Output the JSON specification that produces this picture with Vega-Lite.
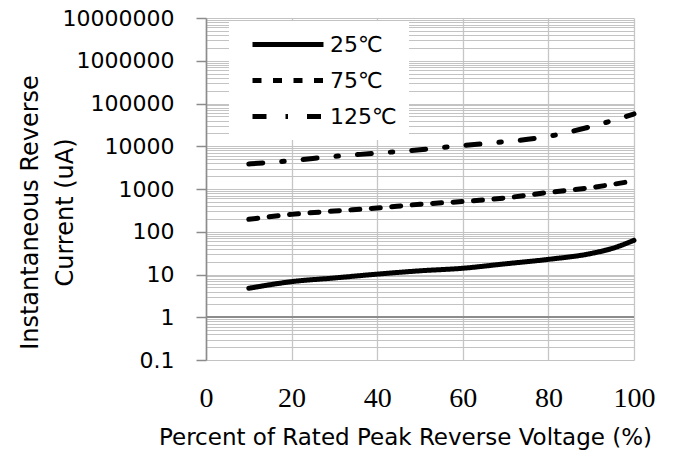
{
  "$schema": "https://vega.github.io/schema/vega-lite/v6.json",
  "width": 428,
  "height": 342,
  "autosize": {"type": "none"},
  "padding": {"left": 206, "top": 18, "right": 58, "bottom": 97},
  "background": "white",
  "config": {
    "view": {"stroke": null},
    "axis": {"labelColor": "black", "titleColor": "black", "titleFontWeight": "normal"}
  },
  "data": {
    "values": [
      {"x": 10, "t": "25℃", "y": 4.75},
      {"x": 20, "t": "25℃", "y": 6.8},
      {"x": 30, "t": "25℃", "y": 8.3},
      {"x": 40, "t": "25℃", "y": 10.2},
      {"x": 50, "t": "25℃", "y": 12.2},
      {"x": 60, "t": "25℃", "y": 14},
      {"x": 70, "t": "25℃", "y": 17.8},
      {"x": 80, "t": "25℃", "y": 22.6},
      {"x": 90, "t": "25℃", "y": 31},
      {"x": 95, "t": "25℃", "y": 41},
      {"x": 100, "t": "25℃", "y": 63},
      {"x": 10, "t": "75℃", "y": 195},
      {"x": 20, "t": "75℃", "y": 255},
      {"x": 30, "t": "75℃", "y": 305},
      {"x": 40, "t": "75℃", "y": 360},
      {"x": 50, "t": "75℃", "y": 440},
      {"x": 60, "t": "75℃", "y": 510},
      {"x": 70, "t": "75℃", "y": 620},
      {"x": 80, "t": "75℃", "y": 830},
      {"x": 90, "t": "75℃", "y": 1080},
      {"x": 100, "t": "75℃", "y": 1550},
      {"x": 10, "t": "125℃", "y": 3850},
      {"x": 20, "t": "125℃", "y": 4600},
      {"x": 30, "t": "125℃", "y": 5800},
      {"x": 40, "t": "125℃", "y": 6900},
      {"x": 50, "t": "125℃", "y": 8300},
      {"x": 60, "t": "125℃", "y": 10400},
      {"x": 70, "t": "125℃", "y": 12800},
      {"x": 80, "t": "125℃", "y": 17000},
      {"x": 90, "t": "125℃", "y": 29000},
      {"x": 95, "t": "125℃", "y": 40000},
      {"x": 100, "t": "125℃", "y": 57000}
    ]
  },
  "layer": [
    {
      "mark": {"type": "rule", "color": "#8c8c8c", "strokeWidth": 1.5},
      "encoding": {"y": {"datum": 1, "type": "quantitative", "scale": {"type": "log", "domain": [0.1, 10000000]}}}
    },
    {
      "mark": {"type": "line", "color": "black", "strokeWidth": 5, "strokeCap": "round", "interpolate": "monotone", "clip": false},
      "encoding": {
        "x": {
          "field": "x", "type": "quantitative",
          "scale": {"domain": [0, 100], "nice": false},
          "axis": {
            "values": [0, 20, 40, 60, 80, 100],
            "grid": true, "gridColor": "#c6c6c6", "gridWidth": 1.3,
            "domain": false, "ticks": false,
            "labelFont": "Liberation Serif", "labelFontSize": 28, "labelPadding": 24,
            "labelFlush": false,
            "title": "Percent of  Rated Peak Reverse Voltage (%)",
            "titleFont": "DejaVu Sans", "titleFontSize": 23, "titlePadding": 14,
            "titleX": 199, "titleAnchor": "middle"
          }
        },
        "y": {
          "field": "y", "type": "quantitative",
          "scale": {"type": "log", "domain": [0.1, 10000000], "nice": false},
          "axis": {
            "values": [0.1,0.2,0.3,0.4,0.5,0.6,0.7,0.8,0.9,1,2,3,4,5,6,7,8,9,10,20,30,40,50,60,70,80,90,100,200,300,400,500,600,700,800,900,1000,2000,3000,4000,5000,6000,7000,8000,9000,10000,20000,30000,40000,50000,60000,70000,80000,90000,100000,200000,300000,400000,500000,600000,700000,800000,900000,1000000,2000000,3000000,4000000,5000000,6000000,7000000,8000000,9000000,10000000],
            "labelExpr": "abs(log(datum.value)/LN10 - round(log(datum.value)/LN10)) < 0.000001 ? (datum.value < 1 ? '0.1' : format(datum.value, 'd')) : ''",
            "labelOverlap": false,
            "labelFont": "DejaVu Sans", "labelFontSize": 22, "labelPadding": 22,
            "labelFlush": false,
            "grid": true, "gridColor": "#c3c3c3", "gridWidth": 1.2,
            "domain": true, "domainColor": "#8c8c8c", "domainWidth": 1.6,
            "ticks": true, "tickSize": 10, "tickColor": "#8c8c8c", "tickWidth": 1.5,
            "tickOpacity": {"condition": {"test": "abs(log(datum.value)/LN10 - round(log(datum.value)/LN10)) < 0.000001", "value": 1}, "value": 0},
            "title": ["Instantaneous Reverse", "Current (uA)"],
            "titleFont": "DejaVu Sans", "titleFontSize": 24, "titleLineHeight": 35,
            "titleAngle": -90, "titleX": -176, "titleY": 194, "titleAlign": "center", "titleBaseline": "middle"
          }
        },
        "strokeDash": {
          "field": "t", "type": "nominal",
          "scale": {"domain": ["25℃", "75℃", "125℃"], "range": [[1, 0], [9, 11.5], [14, 19, 2.5, 19]]},
          "legend": {
            "title": null,
            "orient": "none", "legendX": 23, "legendY": 3,
            "fillColor": "white", "padding": 12,
            "symbolType": "M0,0H8", "symbolSize": 315, "symbolStrokeWidth": 5,
            "symbolStrokeColor": "black", "symbolFillColor": "transparent",
            "labelFont": "DejaVu Sans", "labelFontSize": 22, "labelColor": "black",
            "labelOffset": 66, "rowPadding": 13
          }
        }
      }
    }
  ]
}
